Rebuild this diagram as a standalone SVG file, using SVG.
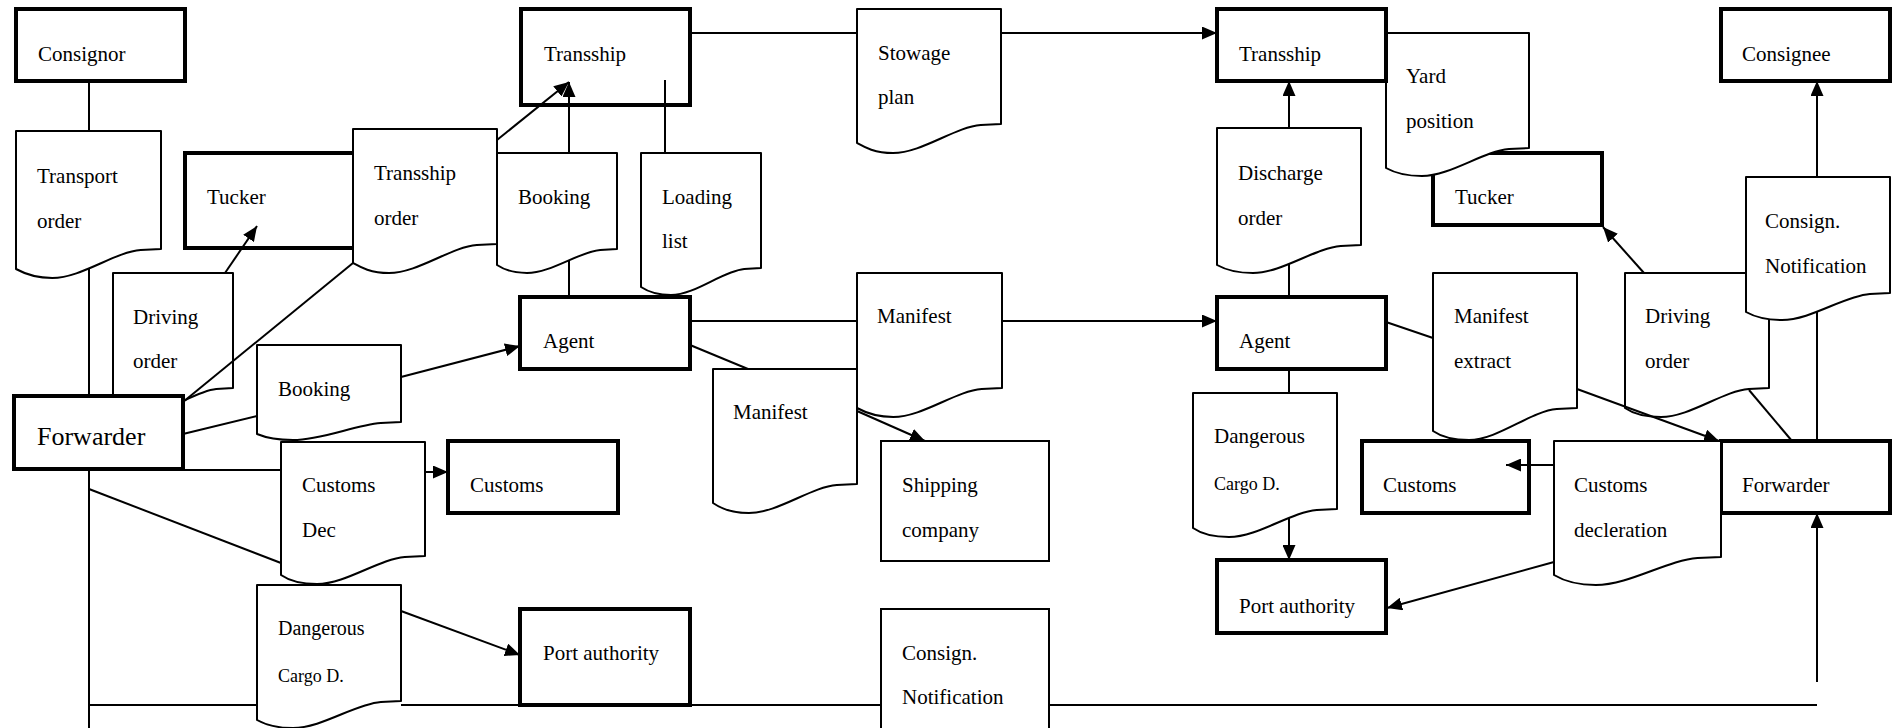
<svg xmlns="http://www.w3.org/2000/svg" width="1892" height="728" viewBox="0 0 1892 728">
<defs>
<marker id="arr" viewBox="0 0 15 13" refX="15" refY="6.5" markerWidth="15" markerHeight="13" markerUnits="userSpaceOnUse" orient="auto"><path d="M0,0 L15,6.5 L0,13 Z" fill="#000"/></marker>
<style>
.box{fill:#fff;stroke:#000;stroke-width:4}
.thin{fill:#fff;stroke:#000;stroke-width:2}
.doc{fill:#fff;stroke:#000;stroke-width:2;stroke-linejoin:round}
.t{font-family:'Liberation Serif',serif;font-size:21px;fill:#000}
.big{font-size:26px}
.sm{font-size:18px}
#connectors line{stroke:#000;stroke-width:2;fill:none}
.a{marker-end:url(#arr)}
</style>
</defs>
<rect width="1892" height="728" fill="#fff"/>
<g id="nodes" font-family="Liberation Serif, serif">
<g id="consignor"><rect class="box" x="16" y="9" width="169" height="72"/><text class="t" x="38" y="61">Consignor</text></g>
<g id="transport-order"><path class="doc" d="M16,131 H161 V249 L140.7,250 C114.6,252 81.3,278 52.3,278 C33.4,278 23.3,273 16,269 Z"/><text class="t" x="37" y="183">Transport</text><text class="t" x="37" y="228">order</text></g>
<g id="tucker-left"><rect class="box" x="185" y="153" width="170" height="95"/><text class="t" x="207" y="204">Tucker</text></g>
<g id="transship-order"><path class="doc" d="M353,129 H497 V244 L476.8,245 C450.9,247 417.8,273 389,273 C370.3,273 360.2,267 353,263 Z"/><text class="t" x="374" y="180">Transship</text><text class="t" x="374" y="225">order</text></g>
<g id="booking-upper"><path class="doc" d="M497,153 H617 V249 L600.2,250 C578.6,252 551,273 527,273 C511.4,273 503,269 497,265 Z"/><text class="t" x="518" y="204">Booking</text></g>
<g id="loading-list"><path class="doc" d="M641,153 H761 V268 L744.2,269 C722.6,271 695,295 671,295 C655.4,295 647,291 641,287 Z"/><text class="t" x="662" y="204">Loading</text><text class="t" x="662" y="248">list</text></g>
<g id="transship-mid"><rect class="box" x="521" y="9" width="169" height="96"/><text class="t" x="544" y="61">Transship</text></g>
<g id="stowage-plan"><path class="doc" d="M857,9 H1001 V124 L980.8,125 C954.9,127 921.8,153 893,153 C874.3,153 864.2,147 857,143 Z"/><text class="t" x="878" y="60">Stowage</text><text class="t" x="878" y="104">plan</text></g>
<g id="tucker-right"><rect class="box" x="1433" y="153" width="169" height="72"/><text class="t" x="1455" y="204">Tucker</text></g>
<g id="yard-position"><path class="doc" d="M1386,33 H1529 V148 L1509,149 C1483.2,151 1450.4,176 1421.8,176 C1403.2,176 1393.2,172 1386,168 Z"/><text class="t" x="1406" y="83">Yard</text><text class="t" x="1406" y="128">position</text></g>
<g id="transship-right"><rect class="box" x="1217" y="9" width="169" height="72"/><text class="t" x="1239" y="61">Transship</text></g>
<g id="consignee"><rect class="box" x="1721" y="9" width="169" height="72"/><text class="t" x="1742" y="61">Consignee</text></g>
<g id="discharge-order"><path class="doc" d="M1217,128 H1361 V245 L1340.8,246 C1314.9,248 1281.8,273 1253,273 C1234.3,273 1224.2,269 1217,265 Z"/><text class="t" x="1238" y="180">Discharge</text><text class="t" x="1238" y="225">order</text></g>
<g id="driving-order-right"><path class="doc" d="M1625,273 H1769 V388 L1748.8,389 C1722.9,391 1689.8,417 1661,417 C1642.3,417 1632.2,413 1625,408 Z"/><text class="t" x="1645" y="323">Driving</text><text class="t" x="1645" y="368">order</text></g>
<g id="consign-notification-right"><path class="doc" d="M1746,177 H1890 V293 L1869.8,294 C1843.9,296 1810.8,320 1782,320 C1763.3,320 1753.2,316 1746,312 Z"/><text class="t" x="1765" y="228">Consign.</text><text class="t" x="1765" y="273">Notification</text></g>
<g id="driving-order-left"><path class="doc" d="M113,273 H233 V388 L216.2,389 C194.6,391 167,414 143,414 C127.4,414 119,410 113,406 Z"/><text class="t" x="133" y="324">Driving</text><text class="t" x="133" y="368">order</text></g>
<g id="forwarder-left"><rect class="box" x="14" y="396" width="169" height="73"/><text class="t big" x="37" y="445">Forwarder</text></g>
<g id="booking-lower"><path class="doc" d="M257,345 H401 V422 L380.8,423 C354.9,425 321.8,440 293,440 C274.3,440 264.2,437 257,434 Z"/><text class="t" x="278" y="396">Booking</text></g>
<g id="agent-left"><rect class="box" x="520" y="297" width="170" height="72"/><text class="t" x="543" y="348">Agent</text></g>
<g id="manifest-upper"><path class="doc" d="M857,273 H1002 V388 L981.7,389 C955.6,391 922.3,417 893.3,417 C874.4,417 864.3,412 857,408 Z"/><text class="t" x="877" y="323">Manifest</text></g>
<g id="manifest-lower"><path class="doc" d="M713,369 H857 V484 L836.8,485 C810.9,487 777.8,513 749,513 C730.3,513 720.2,508 713,503 Z"/><text class="t" x="733" y="419">Manifest</text></g>
<g id="shipping-company"><rect class="thin" x="881" y="441" width="168" height="120"/><text class="t" x="902" y="492">Shipping</text><text class="t" x="902" y="537">company</text></g>
<g id="customs-dec"><path class="doc" d="M281,442 H425 V556 L404.8,557 C378.9,559 345.8,584 317,584 C298.3,584 288.2,580 281,575 Z"/><text class="t" x="302" y="492">Customs</text><text class="t" x="302" y="537">Dec</text></g>
<g id="customs-left"><rect class="box" x="448" y="441" width="170" height="72"/><text class="t" x="470" y="492">Customs</text></g>
<g id="dangerous-left"><path class="doc" d="M257,585 H401 V701 L380.8,702 C354.9,704 321.8,728 293,728 C274.3,728 264.2,724 257,720 Z"/><text class="t" x="278" y="635" style="font-size:20px">Dangerous</text><text class="t sm" x="278" y="682">Cargo D.</text></g>
<g id="port-authority-left"><rect class="box" x="520" y="609" width="170" height="96"/><text class="t" x="543" y="660">Port authority</text></g>
<g id="consign-notification-mid"><rect class="thin" x="881" y="609" width="168" height="130"/><text class="t" x="902" y="660">Consign.</text><text class="t" x="902" y="704">Notification</text></g>
<g id="agent-right"><rect class="box" x="1217" y="297" width="169" height="72"/><text class="t" x="1239" y="348">Agent</text></g>
<g id="manifest-extract"><path class="doc" d="M1433,273 H1577 V408 L1556.8,409 C1530.9,411 1497.8,440 1469,440 C1450.3,440 1440.2,436 1433,431 Z"/><text class="t" x="1454" y="323">Manifest</text><text class="t" x="1454" y="368">extract</text></g>
<g id="dangerous-right"><path class="doc" d="M1193,393 H1337 V509 L1316.8,510 C1290.9,512 1257.8,537 1229,537 C1210.3,537 1200.2,533 1193,528 Z"/><text class="t" x="1214" y="443">Dangerous</text><text class="t sm" x="1214" y="490">Cargo D.</text></g>
<g id="port-authority-right"><rect class="box" x="1217" y="560" width="169" height="73"/><text class="t" x="1239" y="613">Port authority</text></g>
<g id="customs-right"><rect class="box" x="1362" y="441" width="167" height="72"/><text class="t" x="1383" y="492">Customs</text></g>
<g id="forwarder-right"><rect class="box" x="1721" y="441" width="169" height="72"/><text class="t" x="1742" y="492">Forwarder</text></g>
<g id="customs-decleration"><path class="doc" d="M1554,441 H1721 V557 L1697.6,558 C1667.6,560 1629.2,585 1595.8,585 C1574,585 1562.4,580 1554,575 Z"/><text class="t" x="1574" y="492">Customs</text><text class="t" x="1574" y="537">decleration</text></g>
</g>
<g id="connectors">
<line x1="89" y1="81" x2="89" y2="131"/>
<line x1="89" y1="269" x2="89" y2="396"/>
<line x1="89" y1="469" x2="89" y2="728"/>
<line x1="89" y1="705" x2="257" y2="705"/>
<line x1="401" y1="705" x2="881" y2="705"/>
<line x1="1049" y1="705" x2="1817" y2="705"/>
<line class="a" x1="225" y1="273" x2="257" y2="226"/>
<line class="a" x1="497" y1="140" x2="569" y2="82"/>
<line class="a" x1="569" y1="153" x2="569" y2="82"/>
<line x1="569" y1="261" x2="569" y2="297"/>
<line x1="665" y1="80" x2="665" y2="153"/>
<line x1="690" y1="33" x2="857" y2="33"/>
<line class="a" x1="1001" y1="33" x2="1217" y2="33"/>
<line x1="183" y1="402" x2="353" y2="263"/>
<line x1="183" y1="434" x2="257" y2="416"/>
<line x1="183" y1="470" x2="281" y2="470"/>
<line x1="89" y1="489" x2="281" y2="563"/>
<line class="a" x1="401" y1="377" x2="520" y2="346"/>
<line class="a" x1="425" y1="472" x2="448" y2="472"/>
<line class="a" x1="401" y1="611" x2="520" y2="655"/>
<line x1="690" y1="321" x2="857" y2="321"/>
<line class="a" x1="1002" y1="321" x2="1217" y2="321"/>
<line x1="690" y1="345" x2="748" y2="369"/>
<line class="a" x1="857" y1="411" x2="925" y2="441"/>
<line class="a" x1="1289" y1="128" x2="1289" y2="81"/>
<line x1="1289" y1="264" x2="1289" y2="297"/>
<line x1="1289" y1="369" x2="1289" y2="393"/>
<line class="a" x1="1289" y1="518" x2="1289" y2="560"/>
<line x1="1386" y1="322" x2="1433" y2="338"/>
<line class="a" x1="1577" y1="389" x2="1719" y2="441"/>
<line class="a" x1="1554" y1="465" x2="1506" y2="465"/>
<line class="a" x1="1554" y1="562" x2="1387" y2="608"/>
<line class="a" x1="1644" y1="273" x2="1603" y2="227"/>
<line x1="1749" y1="390" x2="1792" y2="441"/>
<line x1="1817" y1="311" x2="1817" y2="441"/>
<line class="a" x1="1817" y1="177" x2="1817" y2="81"/>
<line class="a" x1="1817" y1="682" x2="1817" y2="513"/>
</g>
</svg>
